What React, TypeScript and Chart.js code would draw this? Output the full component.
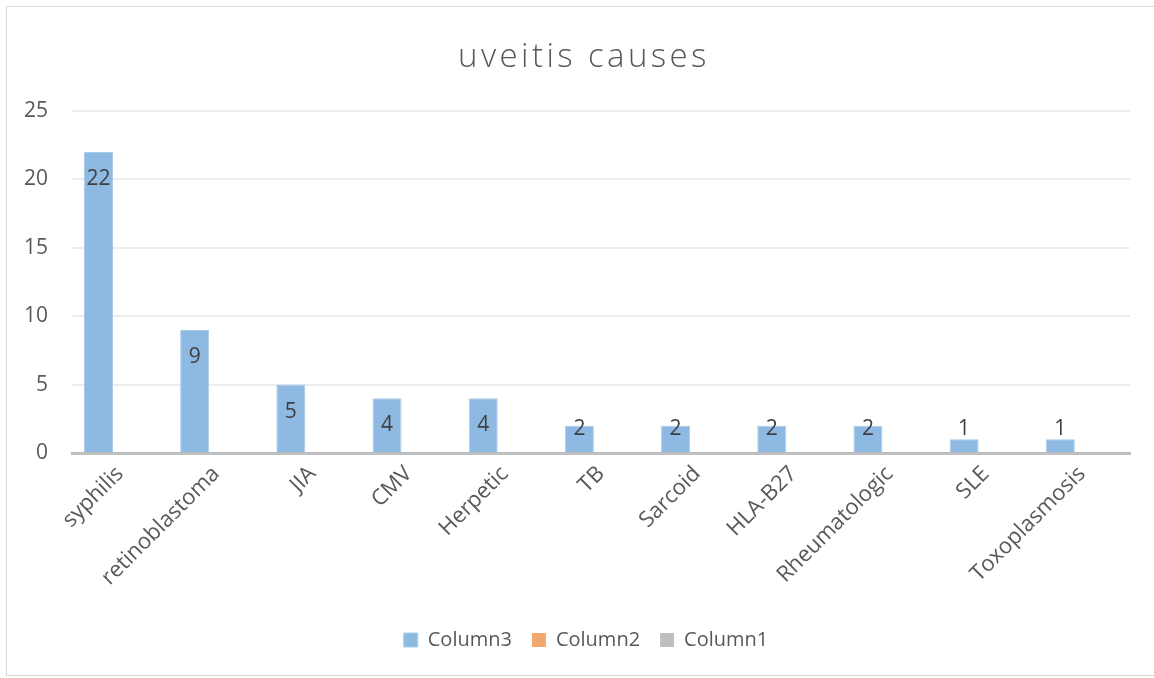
import React, { useEffect, useRef } from "react";
import { Chart, registerables } from "chart.js";

Chart.register(...registerables);

const categories = [
  "syphilis",
  "retinoblastoma",
  "JIA",
  "CMV",
  "Herpetic",
  "TB",
  "Sarcoid",
  "HLA-B27",
  "Rheumatologic",
  "SLE",
  "Toxoplasmosis",
];
const column3 = [22, 9, 5, 4, 4, 2, 2, 2, 2, 1, 1];
const column2 = [null, null, null, null, null, null, null, null, null, null, null];
const column1 = [null, null, null, null, null, null, null, null, null, null, null];
const yTicks = [0, 5, 10, 15, 20, 25];
const chartTitle = "uveitis causes";

const FONT = "'Open Sans', 'Noto Sans', sans-serif";

const labelPlugin = {
  id: "barLabels",
  afterDatasetsDraw(chart: any) {
    const ctx = chart.ctx;
    const meta = chart.getDatasetMeta(0);
    ctx.save();
    ctx.font = `21px ${FONT}`;
    ctx.fillStyle = "#404040";
    ctx.textAlign = "center";
    ctx.textBaseline = "middle";
    meta.data.forEach((bar: any, i: number) => {
      const v = column3[i];
      if (v == null) return;
      const y = Math.min(bar.y + 27, bar.base - 23);
      ctx.fillText(String(v), bar.x, y);
    });
    ctx.restore();
  },
};

const titlePlugin = {
  id: "spacedTitle",
  afterDraw(chart: any) {
    const ctx = chart.ctx;
    ctx.save();
    ctx.font = `300 33px ${FONT}`;
    (ctx as any).letterSpacing = "3.4px";
    ctx.fillStyle = "#595959";
    ctx.textAlign = "center";
    ctx.textBaseline = "alphabetic";
    ctx.fillText(chartTitle, 584, 67);
    ctx.restore();
  },
};

const legendShift = {
  id: "legendShift",
  afterLayout(chart: any) {
    const l = chart.legend;
    if (l) {
      l.left += 42;
    }
  },
};

export default function App() {
  const ref = useRef<HTMLCanvasElement | null>(null);
  useEffect(() => {
    if (!ref.current) return;
    const chart = new Chart(ref.current, {
      type: "bar",
      data: {
        labels: categories,
        datasets: [
          { label: "Column3", data: column3, backgroundColor: "#8DB9E2", borderColor: "#A9CBEA", borderWidth: 1 },
          { label: "Column2", data: column2 as any, backgroundColor: "#F2A770" },
          { label: "Column1", data: column1 as any, backgroundColor: "#BFBFBF" },
        ],
      },
      options: {
        responsive: false,
        animation: false,
        layout: { padding: { left: 0, right: 24, top: 111, bottom: 18 } },
        datasets: {
          bar: { categoryPercentage: 0.674, barPercentage: 1.343 },
        },
        plugins: {
          title: { display: false },
          legend: {
            position: "bottom",
            labels: {
              color: "#595959",
              font: { family: FONT, size: 20 },
              boxWidth: 14,
              boxHeight: 14,
              padding: 20,
            },
          },
          tooltip: { enabled: false },
        },
        scales: {
          x: {
            grid: { display: false, drawTicks: false },
            border: { display: true, color: "#BFBFBF", width: 3 },
            ticks: {
              color: "#595959",
              font: { family: FONT, size: 22 },
              minRotation: 45,
              maxRotation: 45,
              padding: 8,
            },
            afterFit(scale: any) {
              scale.height = 157;
            },
          },
          y: {
            min: 0,
            max: 25,
            grid: { color: "#EDEDED", lineWidth: 2, drawTicks: false },
            border: { display: false },
            afterBuildTicks(scale: any) {
              scale.ticks = yTicks.map((v) => ({ value: v }));
            },
            ticks: {
              color: "#595959",
              font: { family: FONT, size: 21 },
              padding: 24,
            },
            afterFit(scale: any) {
              scale.width = 72;
            },
          },
        },
      },
      plugins: [labelPlugin, titlePlugin, legendShift],
    });
    return () => chart.destroy();
  }, []);

  return (
    <div style={{ position: "absolute", left: 0, top: 0, width: 1154, height: 678, background: "#fff" }}>
      <div
        style={{
          position: "absolute",
          left: 6,
          top: 6,
          width: 1148,
          height: 670,
          borderLeft: "1px solid #D9D9D9",
          borderTop: "1px solid #D9D9D9",
          borderBottom: "1px solid #D9D9D9",
          boxSizing: "border-box",
        }}
      />
      <canvas ref={ref} width={1154} height={678} style={{ position: "absolute", left: 0, top: 0 }} />
    </div>
  );
}
